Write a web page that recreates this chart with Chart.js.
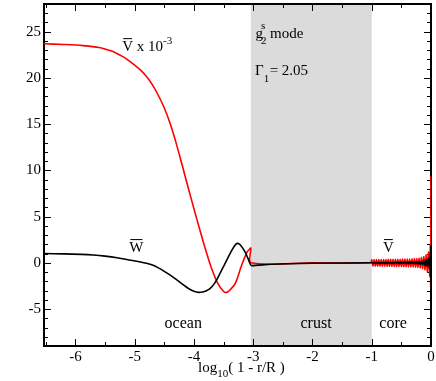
<!DOCTYPE html>
<html>
<head>
<meta charset="utf-8">
<script src="https://cdn.jsdelivr.net/npm/chart.js@4.4.1/dist/chart.umd.min.js"></script>
<style>
  html, body { margin: 0; padding: 0; background: #fff; }
</style>
</head>
<body>
<canvas id="chart" width="436" height="381"></canvas>
<script>
// tick labels and shaded crust region (log10(1 - r/R))
const xTicks = [-6, -5, -4, -3, -2, -1, 0];
const yTicks = [-5, 0, 5, 10, 15, 20, 25];
const crust = [-3.04, -1.0];

// V-bar x 10^-3 (red), ocean + crust part
const redOceanX = [-6.53, -6.2, -5.87, -5.6, -5.4, -5.3, -5.2, -5.1, -5.0, -4.9, -4.8, -4.7, -4.6, -4.5,
  -4.4, -4.3, -4.2, -4.1, -4.0, -3.9, -3.8, -3.7, -3.6, -3.5, -3.45, -3.4, -3.3, -3.2, -3.1, -3.06,
  -3.04, -3.035, -2.0, -1.02];
const redOceanY = [23.7, 23.62, 23.5, 23.3, 22.93, 22.65, 22.3, 21.88, 21.4, 20.85, 20.15, 19.25, 18.1, 16.75,
  15.05, 12.95, 10.6, 8.2, 5.85, 3.55, 1.35, -0.65, -2.2, -3.1, -3.2, -3.0, -2.2, -0.35, 1.2, 1.5,
  1.6, 0, 0, 0];

// W-bar (black), ocean + crust part
const blackOceanX = [-6.53, -6.2, -5.9, -5.7, -5.5, -5.3, -5.1, -4.9, -4.8, -4.7, -4.6, -4.5, -4.4, -4.3,
  -4.2, -4.1, -4.0, -3.92, -3.85, -3.8, -3.73, -3.65, -3.56, -3.47, -3.39, -3.32, -3.27, -3.22, -3.14,
  -3.09, -3.05, -3.03, -2.7, -2.0, -1.02];
const blackOceanY = [1.0, 0.97, 0.91, 0.84, 0.72, 0.55, 0.31, 0.09, -0.05, -0.24, -0.55, -0.92, -1.34, -1.8,
  -2.28, -2.75, -3.08, -3.2, -3.15, -3.05, -2.8, -2.2, -1.15, 0.0, 1.0, 1.8, 2.1, 1.95, 1.2,
  0.5, -0.14, -0.3, -0.15, -0.05, 0];

// core: both eigenfunctions oscillate quickly
const coreX = [-1.00, -0.98, -0.96, -0.94, -0.92, -0.90, -0.88, -0.86, -0.84, -0.82,
  -0.80, -0.78, -0.76, -0.74, -0.72, -0.70, -0.68, -0.66, -0.64, -0.62,
  -0.60, -0.58, -0.56, -0.54, -0.52, -0.50, -0.48, -0.46, -0.44, -0.42,
  -0.40, -0.38, -0.36, -0.34, -0.32, -0.30, -0.28, -0.26, -0.24, -0.22,
  -0.20, -0.18, -0.16, -0.14, -0.12, -0.10, -0.08, -0.06, -0.04, -0.02,
  -0.01, -0.005, -0.002, 0];
const redCoreY = [0.32, -0.36, 0.34, -0.36, 0.34, -0.37, 0.35, -0.37, 0.35, -0.38,
  0.36, -0.38, 0.36, -0.39, 0.37, -0.39, 0.37, -0.40, 0.38, -0.40,
  0.38, -0.41, 0.39, -0.41, 0.39, -0.42, 0.40, -0.42, 0.40, -0.43,
  0.41, -0.44, 0.42, -0.45, 0.43, -0.46, 0.45, -0.48, 0.47, -0.50,
  0.50, -0.53, 0.56, -0.60, 0.66, -0.74, 0.85, -0.98, 1.15, -1.45,
  2.0, -2.6, 9.3, -3.0];
const blackCoreY = [0.04, -0.04, 0.04, -0.04, 0.04, -0.04, 0.04, -0.04, 0.04, -0.04,
  0.04, -0.04, 0.04, -0.04, 0.04, -0.04, 0.04, -0.04, 0.04, -0.04,
  0.05, -0.05, 0.05, -0.05, 0.05, -0.05, 0.05, -0.05, 0.05, -0.05,
  0.06, -0.06, 0.07, -0.07, 0.08, -0.08, 0.09, -0.10, 0.11, -0.12,
  0.13, -0.15, 0.17, -0.20, 0.23, -0.27, 0.32, -0.38, 0.46, -0.60,
  0.9, -1.6, 1.8, -3.7];

const redX = redOceanX.concat(coreX), redY = redOceanY.concat(redCoreY);
const blackX = blackOceanX.concat(coreX), blackY = blackOceanY.concat(blackCoreY);

const FONT = '"Liberation Serif", "Times New Roman", serif';

function txt(ctx, s, x, y, size, align) {
  ctx.font = size + 'px ' + FONT;
  ctx.textAlign = align || 'left';
  ctx.fillText(s, x, y);
  return ctx.measureText(s).width;
}

function overline(ctx, x, w, y) {
  ctx.beginPath();
  ctx.moveTo(x + 1, y);
  ctx.lineTo(x + w - 1, y);
  ctx.stroke();
}

const frame = {
  id: 'frame',
  beforeDatasetsDraw(chart) {
    const { ctx, chartArea: a, scales: { x, y } } = chart;
    ctx.save();
    const x0 = x.getPixelForValue(crust[0]), x1 = x.getPixelForValue(crust[1]);
    ctx.fillStyle = '#dbdbdb';
    ctx.fillRect(x0, a.top, x1 - x0, a.bottom - a.top);

    ctx.strokeStyle = '#000';
    ctx.lineWidth = 1;
    ctx.beginPath();
    // x ticks (inward, bottom and top)
    xTicks.forEach(v => {
      const p = Math.round(x.getPixelForValue(v)) + 0.5;
      ctx.moveTo(p, a.bottom); ctx.lineTo(p, a.bottom - 7);
      ctx.moveTo(p, a.top); ctx.lineTo(p, a.top + 7);
      const m = v - 0.5;
      if (m > x.min) {
        const q = Math.round(x.getPixelForValue(m)) + 0.5;
        ctx.moveTo(q, a.bottom); ctx.lineTo(q, a.bottom - 4);
        ctx.moveTo(q, a.top); ctx.lineTo(q, a.top + 4);
      }
    });
    // y ticks (inward, left and right)
    for (let v = Math.ceil(y.min); v <= y.max; v++) {
      const p = Math.round(y.getPixelForValue(v)) + 0.5;
      const len = yTicks.includes(v) ? 7 : 4;
      ctx.moveTo(a.left, p); ctx.lineTo(a.left + len, p);
      ctx.moveTo(a.right, p); ctx.lineTo(a.right - len, p);
    }
    ctx.stroke();

    ctx.lineWidth = 2;
    ctx.strokeRect(a.left, a.top, a.right - a.left, a.bottom - a.top);

    // tick labels
    ctx.fillStyle = '#000';
    ctx.textBaseline = 'alphabetic';
    xTicks.forEach(v => txt(ctx, String(v), x.getPixelForValue(v), a.bottom + 15, 15, 'center'));
    ctx.textBaseline = 'middle';
    yTicks.forEach(v => txt(ctx, String(v), a.left - 3, y.getPixelForValue(v), 15, 'right'));
    ctx.restore();
  },
  afterDatasetsDraw(chart) {
    const { ctx, chartArea: a, scales: { x, y } } = chart;
    ctx.save();
    ctx.fillStyle = '#000';
    ctx.strokeStyle = '#000';
    ctx.lineWidth = 1;
    ctx.textBaseline = 'alphabetic';

    // V-bar x 10^-3
    let px = x.getPixelForValue(-5.21), by = y.getPixelForValue(22.9);
    let w = txt(ctx, 'V', px, by, 15);
    overline(ctx, px, w, by - 12.5);
    px += w;
    px += txt(ctx, ' x 10', px, by, 15);
    txt(ctx, '-3', px, by - 7, 11);

    // W-bar
    px = x.getPixelForValue(-5.09); by = y.getPixelForValue(1.16);
    w = txt(ctx, 'W', px, by, 15);
    overline(ctx, px, w, by - 12.5);

    // V-bar in the core
    px = x.getPixelForValue(-0.81);
    w = txt(ctx, 'V', px, by, 15);
    overline(ctx, px, w, by - 12.5);

    // region names
    by = y.getPixelForValue(-7.02);
    txt(ctx, 'ocean', x.getPixelForValue(-4.18), by, 16, 'center');
    txt(ctx, 'crust', x.getPixelForValue(-1.94), by, 16, 'center');
    txt(ctx, 'core', x.getPixelForValue(-0.64), by, 16, 'center');

    // mode label
    px = x.getPixelForValue(-2.96); by = y.getPixelForValue(24.3);
    w = txt(ctx, 'g', px, by, 15);
    txt(ctx, '2', px + w - 2, by + 6, 11);
    txt(ctx, 's', px + w - 2, by - 9, 11);
    txt(ctx, 'mode', px + w + 7, by, 15);

    px = x.getPixelForValue(-2.97); by = y.getPixelForValue(20.3);
    w = txt(ctx, '\u0393', px, by, 15);
    txt(ctx, '1', px + w, by + 7, 11);
    txt(ctx, '= 2.05', px + w + 6, by, 15);

    // x axis title
    px = 198; by = a.bottom + 26;
    px += txt(ctx, 'log', px, by, 15);
    px += txt(ctx, '10', px, by + 5, 11);
    txt(ctx, '( 1 - r/R )', px, by, 15);
    ctx.restore();
  }
};

const toPoints = (xs, ys) => xs.map((v, i) => ({ x: v, y: ys[i] }));

new Chart(document.getElementById('chart'), {
  type: 'line',
  data: {
    datasets: [
      {
        label: 'W',
        data: toPoints(blackX, blackY),
        borderColor: '#000000',
        borderWidth: 1.6,
        pointRadius: 0,
        tension: 0.3
      },
      {
        label: 'V x 10^-3',
        data: toPoints(redX, redY),
        borderColor: '#ff0000',
        borderWidth: 1.6,
        pointRadius: 0,
        tension: 0.3
      }
    ]
  },
  options: {
    responsive: false,
    animation: false,
    events: [],
    layout: { padding: { top: 4, right: 5, left: 0, bottom: 0 } },
    plugins: { legend: { display: false }, tooltip: { enabled: false } },
    scales: {
      x: {
        type: 'linear', min: -6.53, max: 0,
        ticks: { display: false }, grid: { display: false }, border: { display: false },
        afterFit: s => { s.height = 35; }
      },
      y: {
        type: 'linear', min: -9, max: 28,
        ticks: { display: false }, grid: { display: false }, border: { display: false },
        afterFit: s => { s.width = 44; }
      }
    }
  },
  plugins: [frame]
});
</script>
</body>
</html>
